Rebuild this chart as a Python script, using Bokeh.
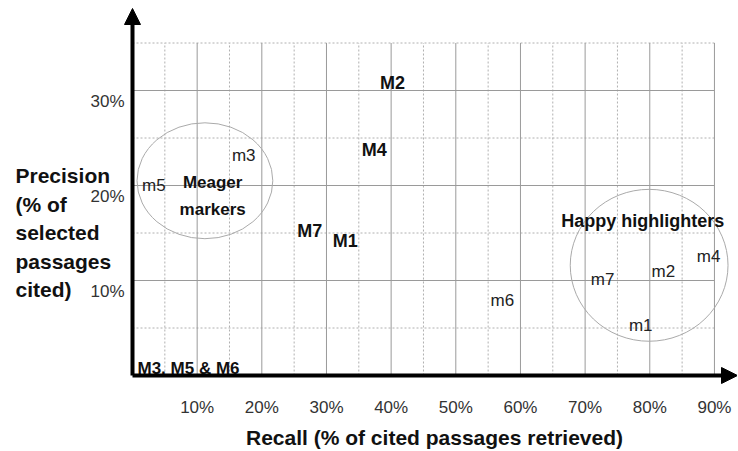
from bokeh.plotting import figure
from bokeh.models import Range1d, Arrow, NormalHead
from bokeh.core.properties import value
from bokeh.embed import file_html
from bokeh.resources import INLINE

# ---------------- data ----------------
recall_ticks = [10, 20, 30, 40, 50, 60, 70, 80, 90]
recall_tick_labels = ["10%", "20%", "30%", "40%", "50%", "60%", "70%", "80%", "90%"]
recall_minor = [5, 15, 25, 35, 45, 55, 65, 75, 85]
precision_ticks = [10, 20, 30]
precision_tick_labels = ["10%", "20%", "30%"]
precision_minor = [5, 15, 25, 35]
grid_recall_max = 90
grid_precision_max = 35

# bold (upper-case) systems
upper_names = ["M1", "M2", "M4", "M7"]
upper_recall = [32.9, 40.2, 37.4, 27.4]
upper_precision = [14.2, 30.8, 23.7, 15.2]

# systems at the origin
origin_name = ["M3, M5 & M6"]
origin_recall = [0]
origin_precision = [0]

# regular (lower-case) systems
lower_names = ["m1", "m2", "m3", "m4", "m5", "m6", "m7"]
lower_recall = [78.6, 82.1, 17.2, 89.1, 3.3, 57.2, 72.7]
lower_precision = [5.3, 10.9, 23.2, 12.5, 20.0, 7.9, 10.1]

# clusters
cluster_names = ["Meager\nmarkers", "Happy highlighters"]
cluster_recall = [11.2, 79.9]
cluster_precision = [20.5, 11.6]
cluster_width = [21.0, 24.4]
cluster_height = [12.2, 16.0]
cluster_label_recall = [12.4, 78.9]
cluster_label_precision = [18.9, 16.3]
cluster_font_size = ["17px", "18px"]

x_title = "Recall (% of cited passages retrieved)"
y_title_lines = ["Precision", "(% of", "selected", "passages", "cited)"]

# ---------------- layout (pixels, picture coordinates) ----------------
W, H = 737, 450
X0_PX, Y0_PX = 132, 375          # pixel position of the origin
PX_PER_X, PX_PER_Y = 6.466, 9.5  # pixels per percentage point


def px2x(px):
    return (px - X0_PX) / PX_PER_X


def px2y(py):
    return (Y0_PX - py) / PX_PER_Y


FONT = "Liberation Sans"

p = figure(width=W, height=H,
           x_range=Range1d(px2x(0), px2x(W)), y_range=Range1d(px2y(H), px2y(0)),
           x_axis_location=None, y_axis_location=None,
           output_backend="svg", toolbar_location=None,
           min_border_left=0, min_border_right=0, min_border_top=0, min_border_bottom=0)
p.outline_line_color = None
p.xgrid.visible = False
p.ygrid.visible = False
p.background_fill_color = "white"
p.border_fill_color = "white"

# gridlines
p.segment(x0=recall_minor, y0=[0] * len(recall_minor), x1=recall_minor,
          y1=[grid_precision_max] * len(recall_minor),
          line_color="#b0b0b0", line_width=1, line_dash="2 2")
p.segment(x0=[0] * len(precision_minor), y0=precision_minor,
          x1=[grid_recall_max] * len(precision_minor), y1=precision_minor,
          line_color="#b0b0b0", line_width=1, line_dash="2 2")
p.segment(x0=recall_ticks, y0=[0] * len(recall_ticks), x1=recall_ticks,
          y1=[grid_precision_max] * len(recall_ticks),
          line_color="#9a9a9a", line_width=1)
p.segment(x0=[0] * len(precision_ticks), y0=precision_ticks,
          x1=[grid_recall_max] * len(precision_ticks), y1=precision_ticks,
          line_color="#9a9a9a", line_width=1)

# tick labels
p.text(x=recall_ticks, y=[0] * len(recall_ticks), text=recall_tick_labels,
       text_align="center", text_baseline="alphabetic", y_offset=32,
       text_font=value(FONT), text_font_size="17px", text_color="#333333")
p.text(x=[0] * len(precision_ticks), y=precision_ticks, text=precision_tick_labels,
       text_align="right", text_baseline="alphabetic", x_offset=-8, y_offset=11,
       text_font=value(FONT), text_font_size="17px", text_color="#333333")

# axis arrows
p.add_layout(Arrow(end=NormalHead(size=16, fill_color="black", line_color="black"),
                   x_start=0, y_start=0, x_end=px2x(W), y_end=0,
                   line_width=4, line_color="black"))
p.add_layout(Arrow(end=NormalHead(size=16, fill_color="black", line_color="black"),
                   x_start=0, y_start=0, x_end=0, y_end=px2y(8),
                   line_width=4, line_color="black"))

# clusters
p.ellipse(x=cluster_recall, y=cluster_precision, width=cluster_width, height=cluster_height,
          fill_color=None, line_color="#aaaaaa", line_width=1)
p.text(x=cluster_label_recall, y=cluster_label_precision, text=cluster_names,
       text_align="center", text_baseline="middle", text_font=value(FONT),
       text_font_style="bold", text_font_size=cluster_font_size, text_color="#111111",
       text_line_height=1.4)

# points (as text markers)
p.text(x=upper_recall, y=upper_precision, text=upper_names, text_align="center",
       text_baseline="middle", text_font=value(FONT), text_font_style="bold",
       text_font_size="18px", text_color="#111111")
p.text(x=origin_recall, y=origin_precision, text=origin_name, text_align="left",
       text_baseline="alphabetic", x_offset=5, y_offset=-7, text_font=value(FONT),
       text_font_style="bold", text_font_size="17px", text_color="#111111")
p.text(x=lower_recall, y=lower_precision, text=lower_names, text_align="center",
       text_baseline="middle", text_font=value(FONT), text_font_size="17px",
       text_color="#222222")

# axis titles
p.text(x=[px2x(434)], y=[px2y(437)], text=[x_title], text_align="center",
       text_baseline="alphabetic", text_font=value(FONT), text_font_style="bold",
       text_font_size="21px", text_color="#111111")
y_title_baselines_px = [175, 204, 232, 261, 289]
p.text(x=[px2x(15)] * len(y_title_lines), y=[px2y(b) for b in y_title_baselines_px],
       text=y_title_lines, text_align="left", text_baseline="alphabetic",
       text_font=value(FONT), text_font_style="bold", text_font_size="21px",
       text_color="#111111")

open("out.html", "w").write(file_html(p, INLINE))
